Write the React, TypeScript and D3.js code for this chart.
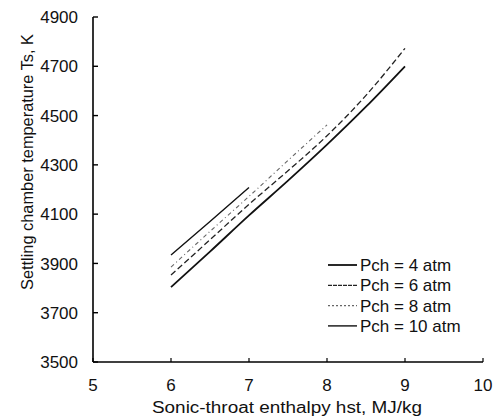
import React from "react";
import * as d3 from "d3";

const xTicks = [5, 6, 7, 8, 9, 10];
const yTicks = [3500, 3700, 3900, 4100, 4300, 4500, 4700, 4900];

const xFull = [6, 6.5, 7, 7.5, 8, 8.5, 9];
const xTo8 = [6, 6.5, 7, 7.5, 8];
const xTo7 = [6, 6.5, 7];

const pch4 = [3804, 3948, 4095, 4236, 4382, 4536, 4700];
const pch6 = [3853, 3996, 4140, 4276, 4418, 4582, 4773];
const pch8 = [3885, 4030, 4172, 4318, 4462];
const pch10 = [3934, 4070, 4208];

const seriesNames = ["Pch = 4 atm", "Pch = 6 atm", "Pch = 8 atm", "Pch = 10 atm"];

const W = 502;
const H = 418;
const left = 93;
const right = 483;
const top = 17;
const bottom = 362;

export default function App() {
  const x = d3.scaleLinear().domain([5, 10]).range([left, right]);
  const y = d3.scaleLinear().domain([3500, 4900]).range([bottom, top]);

  const line = d3
    .line<[number, number]>()
    .x((d) => x(d[0]))
    .y((d) => y(d[1]))
    .curve(d3.curveMonotoneX);

  const series = [
    { name: seriesNames[0], xs: xFull, ys: pch4, stroke: "#111", width: 1.8, dash: undefined as string | undefined, ldash: undefined as string | undefined },
    { name: seriesNames[1], xs: xFull, ys: pch6, stroke: "#222", width: 1.3, dash: "6,3", ldash: "4,1" },
    { name: seriesNames[2], xs: xTo8, ys: pch8, stroke: "#666", width: 1.1, dash: "4,3,1,3", ldash: "2,2" },
    { name: seriesNames[3], xs: xTo7, ys: pch10, stroke: "#111", width: 1.4, dash: undefined, ldash: undefined },
  ];

  const font = "'Liberation Sans', Arial, sans-serif";

  return (
    <svg
      width={W}
      height={H}
      style={{ position: "absolute", left: 0, top: 0, background: "#fff" }}
      fontFamily={font}
    >
      <rect x={0} y={0} width={W} height={H} fill="#fff" />
      <line x1={left} y1={top} x2={left} y2={bottom} stroke="#000" strokeWidth={1.6} />
      <line x1={left} y1={bottom} x2={right} y2={bottom} stroke="#000" strokeWidth={1.4} />
      {yTicks.map((t) => (
        <g key={"y" + t}>
          <line x1={left} x2={left + 5} y1={y(t)} y2={y(t)} stroke="#000" strokeWidth={1.4} />
          <text x={78} y={y(t)} dy="0.36em" textAnchor="end" fontSize={17} fill="#111">
            {t}
          </text>
        </g>
      ))}
      {xTicks.map((t) => (
        <g key={"x" + t}>
          <line x1={x(t)} x2={x(t)} y1={bottom} y2={bottom - 4} stroke="#000" strokeWidth={1.2} />
          <text x={x(t)} y={391} textAnchor="middle" fontSize={17} fill="#111">
            {t}
          </text>
        </g>
      ))}
      <text
        x={(left + right) / 2 - 1}
        y={413}
        textAnchor="middle"
        fontSize={16}
        textLength={270}
        lengthAdjust="spacingAndGlyphs"
        fill="#111"
      >
        Sonic-throat enthalpy hst, MJ/kg
      </text>
      <text
        transform={`translate(33,162) rotate(-90)`}
        textAnchor="middle"
        fontSize={17}
        textLength={256}
        lengthAdjust="spacingAndGlyphs"
        fill="#111"
      >
        Settling chamber temperature Ts, K
      </text>
      {series.map((s) => (
        <path
          key={s.name}
          d={line(s.xs.map((xv, i) => [xv, s.ys[i]] as [number, number])) || ""}
          fill="none"
          stroke={s.stroke}
          strokeWidth={s.width}
          strokeDasharray={s.dash}
        />
      ))}
      {series.map((s, i) => {
        const ly = 265 + i * 20.3;
        return (
          <g key={"lg" + s.name}>
            <line x1={328} x2={357} y1={ly} y2={ly} stroke={s.stroke} strokeWidth={s.width} strokeDasharray={s.ldash} />
            <text x={360} y={ly} dy="0.36em" fontSize={17} fill="#111">
              {s.name}
            </text>
          </g>
        );
      })}
    </svg>
  );
}
